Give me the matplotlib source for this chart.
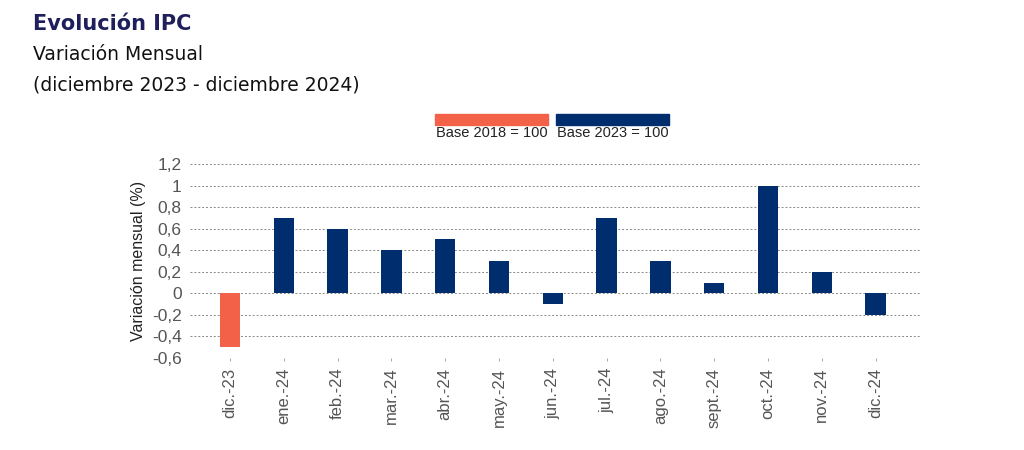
import matplotlib.pyplot as plt
from matplotlib.patches import Rectangle

meses = ["dic.-23", "ene.-24", "feb.-24", "mar.-24", "abr.-24", "may.-24", "jun.-24",
         "jul.-24", "ago.-24", "sept.-24", "oct.-24", "nov.-24", "dic.-24"]
variacion = [-0.5, 0.7, 0.6, 0.4, 0.5, 0.3, -0.1, 0.7, 0.3, 0.1, 1.0, 0.2, -0.2]
base = ["2018", "2023", "2023", "2023", "2023", "2023", "2023",
        "2023", "2023", "2023", "2023", "2023", "2023"]
y_ticks = [-0.6, -0.4, -0.2, 0, 0.2, 0.4, 0.6, 0.8, 1, 1.2]

col_2018 = "#F26148"
col_2023 = "#002D6E"
colores = [col_2018 if b == "2018" else col_2023 for b in base]

plt.rcParams['font.family'] = ['Liberation Sans', 'DejaVu Sans']

fig = plt.figure(figsize=(10.24, 4.5), dpi=100)
ax = fig.add_axes([0.1855, 0.2044, 0.7125, 0.4312])

x = range(len(meses))
ax.bar(x, variacion, width=0.38, color=colores, zorder=3)

ax.set_ylim(-0.6, 1.2)
ax.set_xlim(-0.743, 12.817)
ax.set_yticks(y_ticks)
ax.set_yticklabels([("%g" % v).replace(".", ",") for v in y_ticks])
ax.set_xticks(list(x))
ax.set_xticklabels(meses, rotation=90)
ax.tick_params(axis="y", length=0, pad=6, labelsize=12.5, labelcolor="#555555")
ax.tick_params(axis="x", length=2, width=0.6, color="#999999", pad=5,
               labelsize=12, labelcolor="#555555")
ax.grid(axis="y", linestyle=(0, (2, 2)), color="#888888", linewidth=0.7, zorder=0)
for s in ax.spines.values():
    s.set_visible(False)
ax.set_ylabel("Variación mensual (%)", fontsize=11.5, color="#222222", labelpad=4)

# leyenda
for x0, b, c in [(435, "2018", col_2018), (556, "2023", col_2023)]:
    fig.add_artist(Rectangle((x0 / 1024, 1 - 125 / 450), 113 / 1024, 11 / 450,
                             transform=fig.transFigure, color=c))
    fig.text((x0 + 56.5) / 1024, 1 - 133 / 450, "Base %s = 100" % b,
             ha="center", va="center", fontsize=10.5, color="#222222")

fig.text(33 / 1024, 1 - 24 / 450, "Evolución IPC", fontsize=15, fontweight="bold",
         color="#1F1F5C", family=["DejaVu Sans"], va="center")
fig.text(33 / 1024, 1 - 55 / 450, "Variación Mensual", fontsize=13.5,
         color="#111111", family=["DejaVu Sans"], va="center")
fig.text(33 / 1024, 1 - 85 / 450, "(diciembre 2023 - diciembre 2024)", fontsize=13.5,
         color="#111111", family=["DejaVu Sans"], va="center")

fig.savefig("out.png", dpi=100)
